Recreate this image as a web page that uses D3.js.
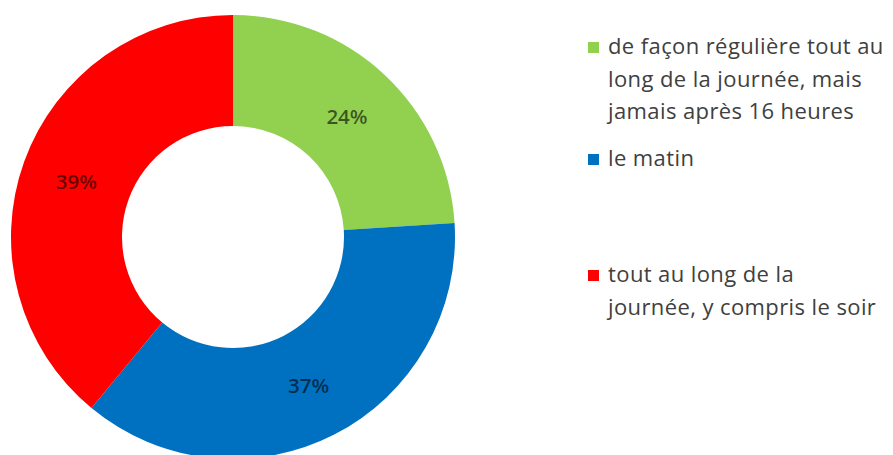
<!DOCTYPE html>
<html lang="fr">
<head>
<meta charset="utf-8">
<script src="https://cdn.jsdelivr.net/npm/d3@7"></script>
<style>
  html, body { margin: 0; padding: 0; background: #ffffff; }
  svg { display: block; }
  text { font-family: "Open Sans", Lato, sans-serif; }
</style>
</head>
<body>
<svg id="chart" width="893" height="455"></svg>
<script>
// Répartition des prises (en %)
const categories = [
  ["de façon régulière tout au", "long de la journée, mais", "jamais après 16 heures"],
  ["le matin"],
  ["tout au long de la", "journée, y compris le soir"]
];
const values = [24, 37, 39];
const colors = ["#92D050", "#0070C0", "#FF0000"];
// Baseline of the first legend line of each entry
const legendTop = [54, 166, 282];

const svg = d3.select("#chart");
const cx = 233, cy = 237, outerR = 222, innerR = 111;

const pie = d3.pie().sort(null).value(d => d);
const arc = d3.arc().innerRadius(innerR).outerRadius(outerR);
const arcs = pie(values);

const g = svg.append("g").attr("transform", `translate(${cx},${cy})`);

g.selectAll("path.slice")
  .data(arcs)
  .join("path")
  .attr("class", "slice")
  .attr("d", arc)
  .attr("fill", (d, i) => colors[i]);

g.selectAll("text.pct")
  .data(arcs)
  .join("text")
  .attr("class", "pct")
  .attr("transform", d => `translate(${arc.centroid(d)})`)
  .attr("text-anchor", "middle")
  .attr("dominant-baseline", "central")
  .attr("font-size", 20.5)
  .attr("font-weight", 600)
  .attr("fill", "#000")
  .attr("fill-opacity", 0.6)
  .text(d => d.data + "%");

// Legend
const legend = svg.append("g");
const items = legend.selectAll("g.item")
  .data(categories)
  .join("g")
  .attr("class", "item")
  .attr("transform", (d, i) => `translate(588,${legendTop[i]})`);

items.append("rect")
  .attr("x", 0)
  .attr("y", -12)
  .attr("width", 11)
  .attr("height", 11)
  .attr("fill", (d, i) => colors[i]);

items.append("text")
  .attr("x", 20)
  .attr("y", 0)
  .attr("font-size", 22)
  .attr("letter-spacing", 0.4)
  .attr("fill", "#404040")
  .selectAll("tspan")
  .data(d => d)
  .join("tspan")
  .attr("x", 20)
  .attr("dy", (d, i) => i === 0 ? 0 : 32.5)
  .text(d => d);
</script>
</body>
</html>
